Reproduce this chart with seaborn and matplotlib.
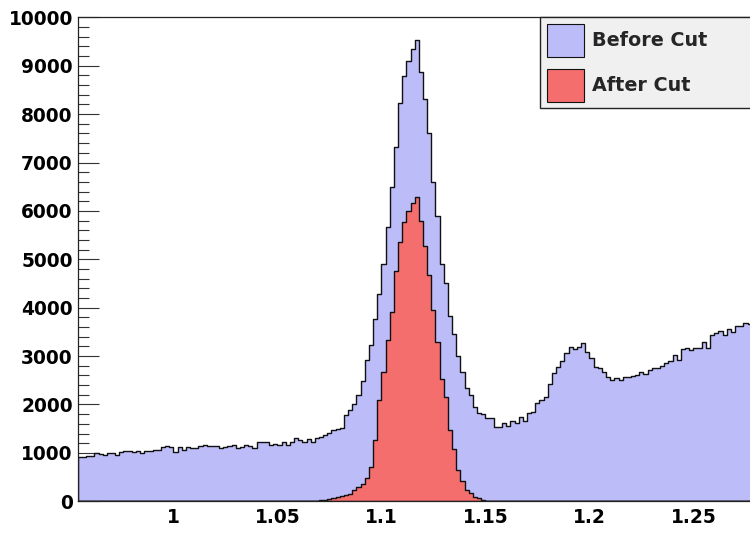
import numpy as np
import pandas as pd
import matplotlib
matplotlib.use("Agg")
import matplotlib.pyplot as plt
import seaborn as sns
from matplotlib.patches import Patch
from matplotlib.ticker import MultipleLocator, FixedLocator

# ---------------- data ----------------
bin_low = 0.954
bin_width = 0.002
n_bins = 162

before_cut = [
    909, 909, 936, 936, 991, 970, 955, 1004, 1004, 950,
    1025, 1039, 1039, 1025, 1045, 1004, 1030, 1045, 1060, 1060,
    1128, 1150, 1115, 1025, 1128, 1060, 1128, 1108, 1094, 1142,
    1170, 1149, 1142, 1142, 1108, 1128, 1149, 1163, 1108, 1128,
    1170, 1142, 1101, 1219, 1232, 1225, 1170, 1184, 1156, 1219,
    1156, 1225, 1314, 1266, 1232, 1287, 1232, 1300, 1335, 1370,
    1404, 1470, 1500, 1521, 1777, 1880, 2004, 2190, 2479, 2913,
    3223, 3773, 4290, 4909, 5667, 6500, 7326, 8223, 8787, 9103,
    9339, 9531, 8876, 8306, 7603, 6591, 5901, 4903, 4517, 3829,
    3457, 3009, 2678, 2334, 2196, 1950, 1831, 1797, 1715, 1722,
    1541, 1541, 1611, 1562, 1666, 1611, 1748, 1666, 1831, 1838,
    2025, 2093, 2149, 2424, 2660, 2781, 2890, 3058, 3195, 3140,
    3180, 3264, 3085, 2955, 2770, 2746, 2665, 2574, 2515, 2550,
    2515, 2574, 2574, 2590, 2609, 2670, 2630, 2713, 2746, 2746,
    2790, 2858, 2909, 3023, 2919, 3150, 3174, 3133, 3161, 3174,
    3290, 3168, 3436, 3471, 3510, 3436, 3555, 3504, 3632, 3632,
    3690, 3670,
]

after_cut = (
    [0] * 54
    + [3, 6, 10, 15, 22, 30, 50, 70, 85, 100,
       124, 157, 227, 300, 364, 490, 700, 1265, 2100, 2675,
       3330, 3915, 4750, 5360, 5765, 5990, 6170, 6290, 5800, 5280,
       4680, 3952, 3300, 2520, 2150, 1473, 1090, 650, 420, 240,
       175, 95, 65, 35, 15, 8, 3]
    + [0] * 61
)

series_labels = ["Before Cut", "After Cut"]
x_ticks = [1.0, 1.05, 1.1, 1.15, 1.2, 1.25]
x_tick_labels = ["1", "1.05", "1.1", "1.15", "1.2", "1.25"]
y_ticks = [0, 1000, 2000, 3000, 4000, 5000, 6000, 7000, 8000, 9000, 10000]
y_tick_labels = [str(v) for v in y_ticks]

# ---------------- table ----------------
edges = (bin_low + bin_width * np.arange(n_bins + 1)).tolist()
centers = [0.5 * (a + b) for a, b in zip(edges[:-1], edges[1:])]
df = pd.DataFrame({
    "mass": centers + centers,
    "count": before_cut + after_cut,
    "sample": [series_labels[0]] * n_bins + [series_labels[1]] * n_bins,
})

# ---------------- style ----------------
sns.set_theme(style="white")
plt.rcParams["font.family"] = ["DejaVu Sans"]

blue_fill = "#bcbcf8"
red_fill = "#f56e6e"
edge_col = "#111111"

fig = plt.figure(figsize=(7.5, 5.33), dpi=100)
ax = fig.add_axes([0.1036, 0.0595, 0.8964, 0.908])

for lab, fc in zip(series_labels, [blue_fill, red_fill]):
    sub = df[df["sample"] == lab]
    sns.histplot(data=sub, x="mass", weights="count", bins=edges,
                 element="step", fill=True, color=fc, edgecolor=edge_col,
                 linewidth=1.0, alpha=1, ax=ax)

ax.set_xlim(0.954, 1.2772)
ax.set_ylim(0, 10000)
ax.set_xlabel("")
ax.set_ylabel("")

ax.xaxis.set_major_locator(FixedLocator(x_ticks))
ax.set_xticklabels(x_tick_labels)
ax.xaxis.set_minor_locator(MultipleLocator(0.01))
ax.yaxis.set_major_locator(FixedLocator(y_ticks))
ax.set_yticklabels(y_tick_labels)
ax.yaxis.set_minor_locator(MultipleLocator(200))

ax.tick_params(axis="both", which="both", direction="in", color="#333333",
               width=0.8, bottom=True, left=True, top=False, right=False)
ax.tick_params(axis="y", which="major", length=15, pad=3.5)
ax.tick_params(axis="y", which="minor", length=8)
ax.tick_params(axis="x", which="major", length=11, pad=5)
ax.tick_params(axis="x", which="minor", length=5.8)

for t in ax.get_xticklabels() + ax.get_yticklabels():
    t.set_fontweight("bold")
    t.set_fontsize(13.4)
    t.set_color("black")

for side in ["left", "bottom", "top"]:
    ax.spines[side].set_color("#222222")
    ax.spines[side].set_linewidth(0.9)
ax.spines["right"].set_visible(False)

handles = [Patch(facecolor=blue_fill, edgecolor=edge_col, linewidth=0.8),
           Patch(facecolor=red_fill, edgecolor=edge_col, linewidth=0.8)]
leg = ax.legend(handles, series_labels, loc="upper left",
                bbox_to_anchor=(0.6877, 0.8126, 0.36, 0.1874), mode="expand",
                borderaxespad=0, fancybox=False, framealpha=1,
                facecolor="#f0f0f0", edgecolor="#222222",
                prop={"weight": "bold", "size": 13.8},
                handlelength=1.93, handleheight=2.27, handletextpad=0.42,
                borderpad=0.34, labelspacing=0.625)
leg.get_frame().set_linewidth(1.0)

fig.savefig("out.png", dpi=100)
